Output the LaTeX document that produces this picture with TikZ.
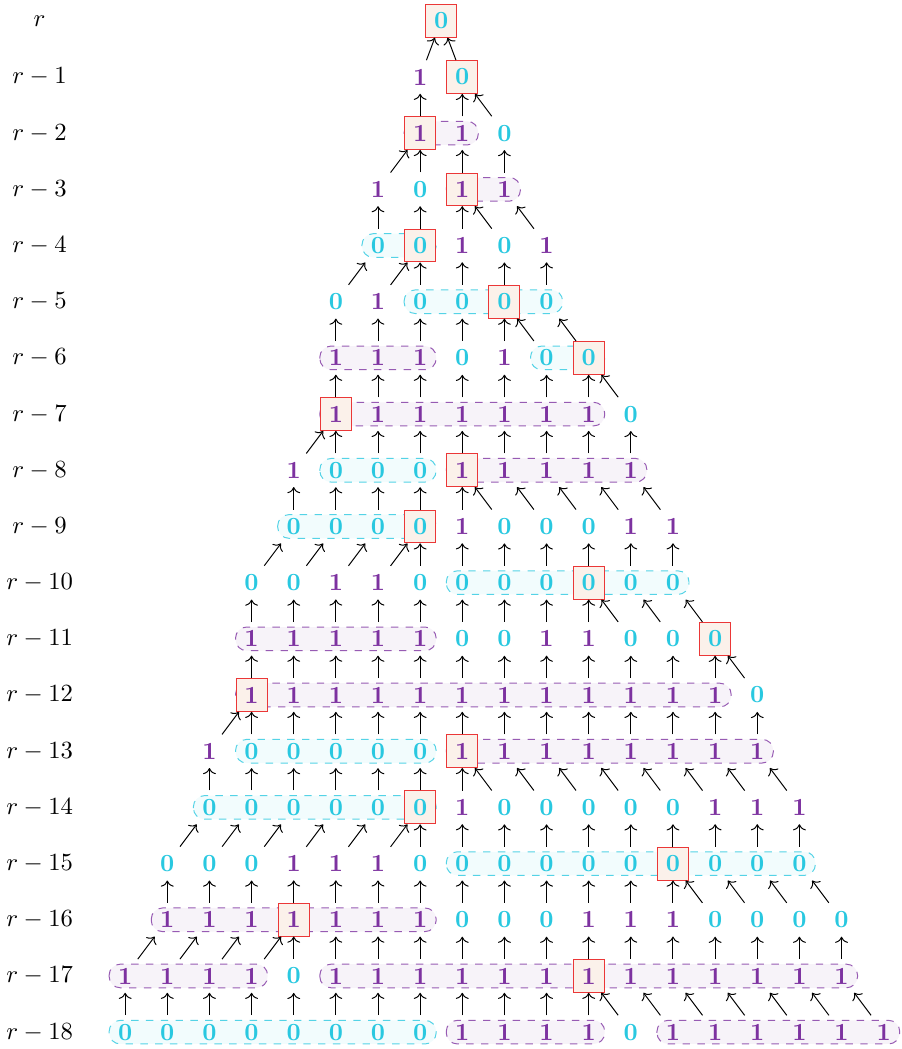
\documentclass[tikz,border=0pt]{standalone}
\usepackage{tikz}
\usetikzlibrary{arrows.meta}
\usepackage{xcolor}
\definecolor{zerocol}{RGB}{41,200,224}
\definecolor{onecol}{RGB}{125,50,160}
\definecolor{pickred}{RGB}{235,55,55}
\definecolor{pickfill}{RGB}{251,241,234}

\begin{document}
\begin{tikzpicture}[x=0.6cm, y=0.8cm,
    bit/.style={font=\bfseries},
    pick/.style={draw=pickred, fill=pickfill, minimum size=12.6pt},
    pickat/.code 2 args={\ifnum#1=#2\relax\pgfkeysalso{pick}\fi},
    lbl/.style={font=\normalsize},
    feed/.style={-{To}},
    run/.style={draw=#1!80, dashed, fill=#1!6, rounded corners=4.5pt}
]
    \useasboundingbox (-9.97,-18.3) rectangle (11.42,0.37);

    % runs of equal bits
    \foreach \k/\a/\z/\col in {2/7/8/onecol, 3/8/9/onecol, 4/6/7/zerocol, 5/7/10/zerocol,
        6/5/7/onecol, 6/10/11/zerocol, 7/5/11/onecol, 8/5/7/zerocol, 8/8/12/onecol,
        9/4/7/zerocol, 10/8/13/zerocol, 11/3/7/onecol, 12/3/14/onecol, 13/3/7/zerocol,
        13/8/15/onecol, 14/2/7/zerocol, 15/8/16/zerocol, 16/1/7/onecol, 17/0/3/onecol,
        17/5/17/onecol, 18/0/7/zerocol, 18/8/11/onecol, 18/13/18/onecol}
        \draw[run=\col] ({\a-7-0.38},{-\k-0.21}) rectangle ({\z-7+0.38},{-\k+0.21});

    % rows, bottom to top, with the arrows coming up from the row below
    \foreach \k/\f/\b/\dir/\vals in {
        18/0/-1/N/{0,0,0,0,0,0,0,0,1,1,1,1,0,1,1,1,1,1,1},
        17/0/11/R/{1,1,1,1,0,1,1,1,1,1,1,1,1,1,1,1,1,1},
        16/1/4/L/{1,1,1,1,1,1,1,0,0,0,1,1,1,0,0,0,0},
        15/1/13/R/{0,0,0,1,1,1,0,0,0,0,0,0,0,0,0,0},
        14/2/7/L/{0,0,0,0,0,0,1,0,0,0,0,0,1,1,1},
        13/2/8/R/{1,0,0,0,0,0,1,1,1,1,1,1,1,1},
        12/3/3/L/{1,1,1,1,1,1,1,1,1,1,1,1,0},
        11/3/14/R/{1,1,1,1,1,0,0,1,1,0,0,0},
        10/3/11/R/{0,0,1,1,0,0,0,0,0,0,0},
        9/4/7/L/{0,0,0,0,1,0,0,0,1,1},
        8/4/8/R/{1,0,0,0,1,1,1,1,1},
        7/5/5/L/{1,1,1,1,1,1,1,0},
        6/5/11/R/{1,1,1,0,1,0,0},
        5/5/9/R/{0,1,0,0,0,0},
        4/6/7/L/{0,0,1,0,1},
        3/6/8/R/{1,0,1,1},
        2/7/7/L/{1,1,0},
        1/7/8/R/{1,0}}
    {
        \pgfmathtruncatemacro\kk{\k+1}
        \node[lbl] (lab\k) at (-9.03,-\k) {$r-\k$};
        \foreach \v [count=\i from 0] in \vals {
            \pgfmathtruncatemacro\j{\f+\i}
            \ifnum\v=0 \def\tone{zerocol}\else\def\tone{onecol}\fi
            \node[bit, text=\tone, pickat={\j}{\b}] (n\k-\j) at (\j-7,-\k) {\v};
            \if R\dir
                \ifnum\j>\b\else \draw[feed] (n\kk-\j) -- (n\k-\j);\fi
                \ifnum\j<\b\else \pgfmathtruncatemacro\jj{\j+1}\draw[feed] (n\kk-\jj) -- (n\k-\j);\fi
            \fi
            \if L\dir
                \ifnum\j>\b\else \pgfmathtruncatemacro\jj{\j-1}\draw[feed] (n\kk-\jj) -- (n\k-\j);\fi
                \ifnum\j<\b\else \draw[feed] (n\kk-\j) -- (n\k-\j);\fi
            \fi
        }
    }

    \node[lbl] (lab0) at (-9.03,0) {$r$};
    \node[bit, text=zerocol, pick] (top) at (0.5,0) {0};
    \draw[feed] (n1-7) -- (top);
    \draw[feed] (n1-8) -- (top);
\end{tikzpicture}
\end{document}
